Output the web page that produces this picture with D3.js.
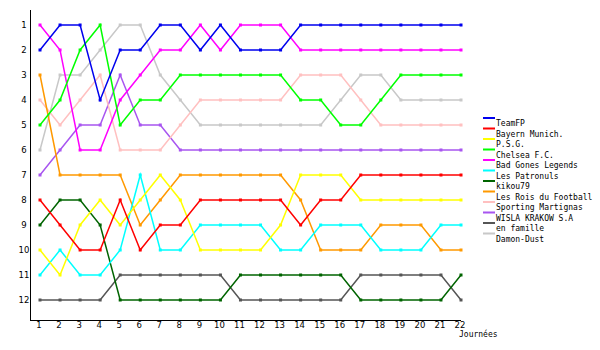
<!DOCTYPE html>
<html><head><meta charset="utf-8">
<script src="https://cdn.jsdelivr.net/npm/d3@7"></script>
<style>
html,body{margin:0;padding:0;background:#fff;}
text{font-family:"DejaVu Sans Mono",monospace;font-size:8px;fill:#000;}
text.ax{font-family:"DejaVu Sans",sans-serif;font-size:8.5px;}
</style></head>
<body><svg id="c" width="600" height="350"></svg>
<script>
const days = d3.range(1, 23);
const rankTicks = [1,2,3,4,5,6,7,8,9,10,11,12];
const teams = ["TeamFP","Bayern Munich.","P.S.G.","Chelsea F.C.","Bad Gones Legends","Les Patronuls","kikou79","Les Rois du Football","Sporting Martignas","WISLA KRAKOW S.A","en famille","Damon-Dust"];
const colors = ["#0000ee","#ff0000","#ffff00","#00ff00","#ff00ff","#00ffff","#006400","#ff9900","#ffc0c0","#a855f0","#555555","#c8c8c8"];
const teamFP        = [2,1,1,4,2,2,1,1,2,1,2,2,2,1,1,1,1,1,1,1,1,1];
const bayern        = [8,9,10,10,8,10,9,9,8,8,8,8,8,9,8,8,7,7,7,7,7,7];
const psg           = [10,11,9,8,9,8,7,8,10,10,10,10,9,7,7,7,8,8,8,8,8,8];
const chelsea       = [5,4,2,1,5,4,4,3,3,3,3,3,3,4,4,5,5,4,3,3,3,3];
const badGones      = [1,2,6,6,4,3,2,2,1,2,1,1,1,2,2,2,2,2,2,2,2,2];
const patronuls     = [11,10,11,11,10,7,10,10,9,9,9,9,10,10,9,9,9,10,10,10,9,9];
const kikou         = [9,8,8,9,12,12,12,12,12,12,11,11,11,11,11,11,12,12,12,12,12,11];
const roisFoot      = [3,7,7,7,7,9,8,7,7,7,7,7,7,8,10,10,10,9,9,9,10,10];
const sporting      = [4,5,4,3,6,6,6,5,4,4,4,4,4,3,3,3,4,5,5,5,5,5];
const wisla         = [7,6,5,5,3,5,5,6,6,6,6,6,6,6,6,6,6,6,6,6,6,6];
const enFamille     = [12,12,12,12,11,11,11,11,11,11,12,12,12,12,12,12,11,11,11,11,11,12];
const damonDust     = [6,3,3,2,1,1,3,4,5,5,5,5,5,5,5,4,3,3,4,4,4,4];
const series = [teamFP,bayern,psg,chelsea,badGones,patronuls,kikou,roisFoot,sporting,wisla,enFamille,damonDust];

const svg = d3.select("#c");
const x = d3.scaleLinear().domain([1,22]).range([40,461]);
const y = d3.scaleLinear().domain([1,12]).range([25,300]);

svg.append("line").attr("x1",30.5).attr("x2",30.5).attr("y1",10).attr("y2",320.5).attr("stroke","#000");
svg.append("line").attr("x1",30).attr("x2",461).attr("y1",320.5).attr("y2",320.5).attr("stroke","#000");

svg.selectAll("text.yl").data(rankTicks).enter().append("text")
  .attr("class","yl ax").attr("x",24).attr("y",d=>y(d)+3).attr("text-anchor","middle").text(d=>d);
svg.selectAll("text.xl").data(days).enter().append("text")
  .attr("class","xl ax").attr("x",d=>x(d)-1).attr("y",328).attr("text-anchor","middle").text(d=>d);
svg.append("text").attr("x",459).attr("y",337).text("Journées");

const line = d3.line().x((d,i)=>x(days[i])).y(d=>y(d));
const order = d3.range(series.length).reverse();
order.forEach(k=>{
  const g = svg.append("g");
  g.append("path").attr("d",line(series[k])).attr("fill","none").attr("stroke",colors[k]).attr("stroke-width",1.5);
  g.selectAll("rect").data(series[k]).enter().append("rect")
    .attr("x",(d,i)=>x(days[i])-1.5).attr("y",d=>y(d)-1.5).attr("width",3).attr("height",3).attr("fill",colors[k]);
});

teams.forEach((t,k)=>{
  const ly = 120 + k*10.5;
  svg.append("rect").attr("x",483).attr("y",ly-3).attr("width",12).attr("height",2).attr("fill",colors[k]);
  svg.append("text").attr("x",496).attr("y",ly+6).text(t);
});
</script></body></html>
